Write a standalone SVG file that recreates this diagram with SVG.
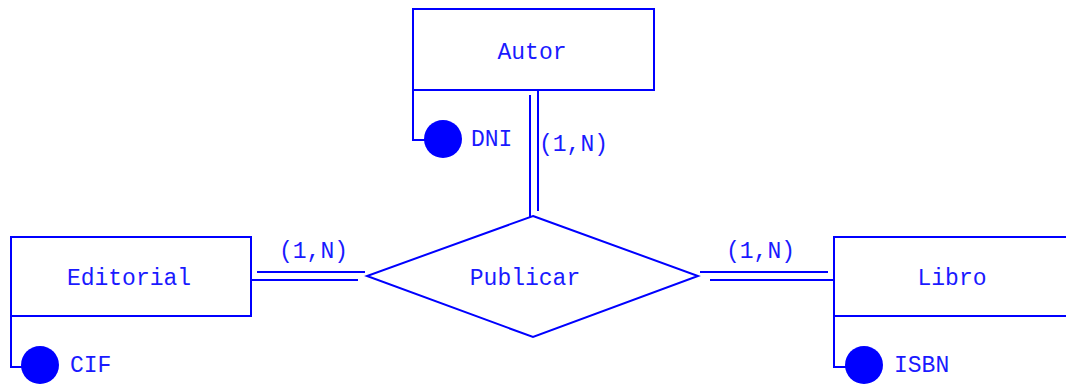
<svg xmlns="http://www.w3.org/2000/svg" width="1066" height="385" viewBox="0 0 1066 385">
  <style>
    .box { fill: #ffffff; stroke: #0000ff; stroke-width: 2; }
    .ln { fill: none; stroke: #0000ff; stroke-width: 2; }
    .key { fill: #0000ff; }
    .lbl { font-family: "Liberation Mono", "DejaVu Sans Mono", monospace; font-size: 23px; fill: #1a1aff; }
    .mid { text-anchor: middle; }
  </style>
  <rect width="1066" height="385" fill="#ffffff"/>

  <!-- connectors: double lines for total participation -->
  <g id="connectors">
    <path class="ln" d="M530 95 V217 M538 90 V211"/>
    <path class="ln" d="M257 272 H365 M251 280 H358"/>
    <path class="ln" d="M700 272 H828 M710 280 H834"/>
    <text class="lbl" x="539" y="151">(1,N)</text>
    <text class="lbl" x="279" y="258">(1,N)</text>
    <text class="lbl" x="726" y="258">(1,N)</text>
  </g>

  <g id="autor">
    <rect class="box" x="413" y="9" width="241" height="81"/>
    <text class="lbl mid" x="532" y="59">Autor</text>
    <path class="ln" d="M413 90 V140 H430"/>
    <circle class="key" cx="443" cy="139" r="19"/>
    <text class="lbl" x="471" y="146">DNI</text>
  </g>

  <g id="publicar">
    <polygon class="ln" points="533,216 698,276 533,337 367,276"/>
    <text class="lbl mid" x="525" y="285">Publicar</text>
  </g>

  <g id="editorial">
    <rect class="box" x="11" y="237" width="240" height="79"/>
    <text class="lbl mid" x="129" y="285">Editorial</text>
    <path class="ln" d="M11 316 V367 H28"/>
    <circle class="key" cx="40" cy="365" r="19"/>
    <text class="lbl" x="70" y="372">CIF</text>
  </g>

  <g id="libro">
    <rect class="box" x="834" y="237" width="240" height="79"/>
    <text class="lbl mid" x="952" y="285">Libro</text>
    <path class="ln" d="M834 316 V367 H852"/>
    <circle class="key" cx="864" cy="365" r="19"/>
    <text class="lbl" x="894" y="372">ISBN</text>
  </g>
</svg>
